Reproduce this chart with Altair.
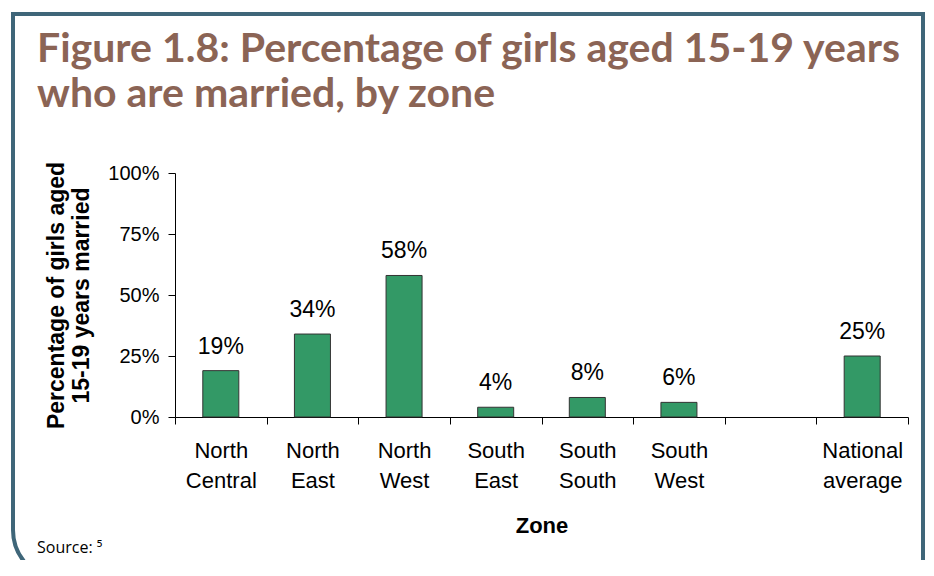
import altair as alt
import pandas as pd

zones = ["North Central", "North East", "North West", "South East",
         "South South", "South West", " ", "National average"]
values = [19, 34, 58, 4, 8, 6, None, 25]
value_labels = ["19%", "34%", "58%", "4%", "8%", "6%", "", "25%"]
y_ticks = [0, 25, 50, 75, 100]
title_text = "Figure 1.8: Percentage of girls aged 15-19 years\nwho are married, by zone"
y_title = ["Percentage of girls aged", "15-19 years married"]
x_title = "Zone"
source_text = "Source: \u2075"

df = pd.DataFrame({"zone": zones, "value": values, "label": value_labels})
bar_df = df.dropna().reset_index(drop=True)

FRAME = "#3f6679"
TITLE_C = "#8b6455"
BAR_C = "#339966"

x_enc = alt.X(
    "zone:N",
    sort=zones,
    scale=alt.Scale(domain=zones, paddingInner=0, paddingOuter=0),
    axis=alt.Axis(
        title=x_title, labelAngle=0, labelExpr="split(datum.label, ' ')",
        tickBand="extent", tickSize=7, labelPadding=16,
        labelFontSize=22, labelLineHeight=30, labelFont="Liberation Sans",
        labelColor="#000", domainColor="#000", tickColor="#000",
        titleFont="Liberation Sans", titleFontSize=22, titleFontWeight="bold",
        titleColor="#000", titlePadding=24,
    ),
)
y_enc = alt.Y(
    "value:Q",
    scale=alt.Scale(domain=[0, 100]),
    axis=alt.Axis(
        title=y_title, values=y_ticks, labelExpr="datum.value + '%'",
        grid=False, tickSize=7, labelPadding=9,
        labelFontSize=20, labelFont="Liberation Sans", labelColor="#000",
        domainColor="#000", tickColor="#000",
        titleFont="Liberation Sans", titleFontSize=23, titleFontWeight="bold",
        titleColor="#000", titleLineHeight=25, titlePadding=14,
    ),
)

bars = alt.Chart(bar_df).mark_bar(
    width=alt.RelativeBandSize(0.393), color=BAR_C, stroke="#333333", strokeWidth=1
).encode(x=x_enc, y=y_enc)

texts = alt.Chart(bar_df).mark_text(
    baseline="bottom", dy=-12, fontSize=23, font="Liberation Sans", color="#000"
).encode(x=alt.X("zone:N", sort=zones), y="value:Q", text="label:N")

frame = alt.Chart(pd.DataFrame({"f": [0]})).mark_rect(
    fillOpacity=0, stroke=FRAME, strokeWidth=4, cornerRadiusBottomLeft=50
).encode(x=alt.value(-162), x2=alt.value(748), y=alt.value(-159), y2=alt.value(407))

title = alt.Chart(pd.DataFrame({"t": [title_text]})).mark_text(
    align="left", baseline="alphabetic", lineBreak="\n", lineHeight=45,
    font="Lato", fontSize=41, fontWeight="bold", color=TITLE_C,
).encode(x=alt.value(-138), y=alt.value(-111), text="t:N")

source = alt.Chart(pd.DataFrame({"s": [source_text]})).mark_text(
    align="left", baseline="middle", fontSize=16, font="Open Sans", color="#000"
).encode(x=alt.value(-138), y=alt.value(375), text="s:N")

chart = alt.layer(frame, title, bars, texts, source).properties(
    width=733, height=244,
    autosize=alt.AutoSizeParams(type="none"),
    padding={"left": 167, "top": 165, "right": 18, "bottom": 143},
).configure_view(stroke=None)

chart.save("out.html", embed_options={"renderer": "svg", "actions": False})
